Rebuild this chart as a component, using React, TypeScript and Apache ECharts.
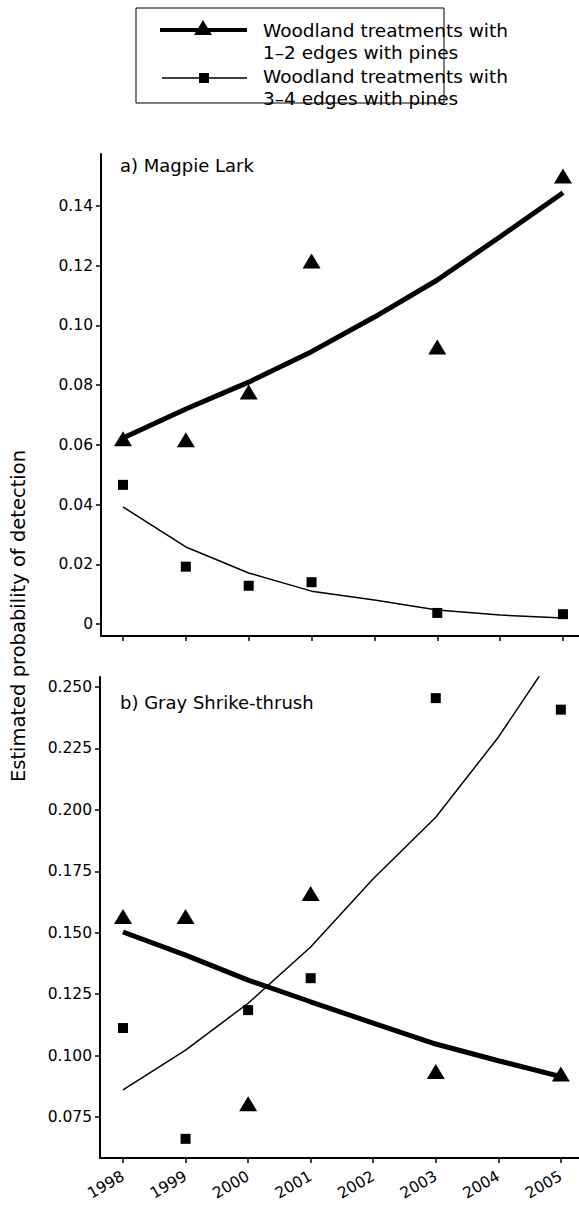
import React, { useEffect, useRef } from "react";
import * as echarts from "echarts";

const years = [1998, 1999, 2000, 2001, 2002, 2003, 2004, 2005];
const obsYears = [1998, 1999, 2000, 2001, 2003, 2005];

const magpieFit12 = [0.0623, 0.072, 0.081, 0.0912, 0.1028, 0.1152, 0.1297, 0.1444];
const magpieObs12 = [0.062, 0.0617, 0.0777, 0.1216, 0.0928, 0.150];
const magpieFit34 = [0.0392, 0.0258, 0.0171, 0.011, 0.008, 0.0047, 0.003, 0.002];
const magpieObs34 = [0.0466, 0.0192, 0.0128, 0.014, 0.0037, 0.0033];

const shrikeFit12 = [0.1503, 0.1409, 0.1307, 0.1219, 0.1132, 0.1047, 0.0979, 0.0914];
const shrikeObs12 = [0.1566, 0.1566, 0.0804, 0.166, 0.0935, 0.0925];
const shrikeFit34 = [0.086, 0.1022, 0.1213, 0.1442, 0.172, 0.197, 0.2296, 0.2675];
const shrikeObs34 = [0.1112, 0.0661, 0.1185, 0.1315, 0.2455, 0.2408];

const magpieTicks = [0, 0.02, 0.04, 0.06, 0.08, 0.1, 0.12, 0.14];
const shrikeTicks = [0.075, 0.1, 0.125, 0.15, 0.175, 0.2, 0.225, 0.25];

const legendLines = ["Woodland treatments with", "1\u20132 edges with pines", "Woodland treatments with", "3\u20134 edges with pines"];
const panelTitles = ["a) Magpie Lark", "b) Gray Shrike-thrush"];
const yTitle = "Estimated probability of detection";

const FONT = "DejaVu Sans";

function pairs(xs: number[], ys: number[]) {
  return xs.map((x, i) => [x, ys[i]]);
}

export default function App() {
  const ref = useRef<HTMLDivElement>(null);
  useEffect(() => {
    if (!ref.current) return;
    const chart = echarts.init(ref.current, null, { renderer: "svg" });
    const axisLine = { show: true, onZero: false, lineStyle: { color: "#000", width: 2 } };
    const axisTick = (vals: number[]) => ({
      show: true,
      inside: false,
      length: 5,
      customValues: vals,
      lineStyle: { color: "#000", width: 1.5 },
    });
    const xAxisBase = (gridIndex: number, min: number, max: number, showLabels: boolean) => ({
      type: "value",
      gridIndex,
      min,
      max,
      axisLine,
      axisTick: axisTick(years),
      splitLine: { show: false },
      axisLabel: {
        show: showLabels,
        customValues: years,
        rotate: 30,
        margin: 17,
        fontFamily: FONT,
        fontSize: 15.5,
        color: "#000",
        hideOverlap: false,
        formatter: (v: number) => String(v),
      },
    });
    const markerStyle = { color: "#000", opacity: 1 };
    const option: any = {
      animation: false,
      backgroundColor: "#fff",
      grid: [
        { left: 101, top: 154, width: 478, height: 482, outerBoundsMode: "none", containLabel: false },
        { left: 100, top: 677, width: 479, height: 481, outerBoundsMode: "none", containLabel: false },
      ],
      xAxis: [
        xAxisBase(0, 1997.65, 2005.255, false),
        xAxisBase(1, 1997.632, 2005.29, true),
      ],
      yAxis: [
        {
          type: "value",
          gridIndex: 0,
          min: -0.00402,
          max: 0.1574,
          axisLine,
          axisTick: axisTick(magpieTicks),
          splitLine: { show: false },
          axisLabel: {
            customValues: magpieTicks,
            margin: 8,
            fontFamily: FONT,
            fontSize: 15.5,
            color: "#000",
            formatter: (v: number) => (Math.abs(v) < 1e-9 ? "0" : v.toFixed(2)),
          },
        },
        {
          type: "value",
          gridIndex: 1,
          min: 0.0583,
          max: 0.2541,
          axisLine,
          axisTick: axisTick(shrikeTicks),
          splitLine: { show: false },
          axisLabel: {
            customValues: shrikeTicks,
            margin: 8,
            fontFamily: FONT,
            fontSize: 15.5,
            color: "#000",
            formatter: (v: number) => v.toFixed(3),
          },
        },
      ],
      series: [
        { type: "line", xAxisIndex: 0, yAxisIndex: 0, data: pairs(years, magpieFit12), showSymbol: false, symbol: "none", lineStyle: { color: "#000", width: 5 } },
        { type: "line", xAxisIndex: 0, yAxisIndex: 0, data: pairs(years, magpieFit34), showSymbol: false, symbol: "none", lineStyle: { color: "#000", width: 1.5 } },
        { type: "scatter", xAxisIndex: 0, yAxisIndex: 0, data: pairs(obsYears, magpieObs12), symbol: "triangle", symbolSize: [18, 15], itemStyle: markerStyle },
        { type: "scatter", xAxisIndex: 0, yAxisIndex: 0, data: pairs(obsYears, magpieObs34), symbol: "rect", symbolSize: 10, itemStyle: markerStyle },
        { type: "line", xAxisIndex: 1, yAxisIndex: 1, data: pairs(years, shrikeFit12), showSymbol: false, symbol: "none", lineStyle: { color: "#000", width: 5 } },
        { type: "line", xAxisIndex: 1, yAxisIndex: 1, data: pairs(years, shrikeFit34), showSymbol: false, symbol: "none", clip: true, lineStyle: { color: "#000", width: 1.5 } },
        { type: "scatter", xAxisIndex: 1, yAxisIndex: 1, data: pairs(obsYears, shrikeObs12), symbol: "triangle", symbolSize: [18, 15], itemStyle: markerStyle },
        { type: "scatter", xAxisIndex: 1, yAxisIndex: 1, data: pairs(obsYears, shrikeObs34), symbol: "rect", symbolSize: 10, itemStyle: markerStyle },
      ],
      graphic: [
        { type: "rect", shape: { x: 136, y: 8, width: 308, height: 95 }, style: { fill: "#fff", stroke: "#000", lineWidth: 1 } },
        { type: "line", shape: { x1: 160, y1: 30, x2: 247, y2: 30 }, style: { stroke: "#000", lineWidth: 4 } },
        { type: "polygon", shape: { points: [[194, 35], [212, 35], [203, 20]] }, style: { fill: "#000" } },
        { type: "line", shape: { x1: 162, y1: 78, x2: 247, y2: 78 }, style: { stroke: "#000", lineWidth: 1.5 } },
        { type: "rect", shape: { x: 199, y: 73, width: 10, height: 10 }, style: { fill: "#000" } },
        ...legendLines.map((t, i) => ({
          type: "text",
          x: 263,
          y: [30, 52, 76, 98][i],
          style: { text: t, fontFamily: FONT, fontSize: 18.5, fill: "#000", align: "left", verticalAlign: "middle" },
        })),
        { type: "text", x: 120, y: 165, style: { text: panelTitles[0], fontFamily: FONT, fontSize: 18, fill: "#000", align: "left", verticalAlign: "middle" } },
        { type: "text", x: 120, y: 702, style: { text: panelTitles[1], fontFamily: FONT, fontSize: 18, fill: "#000", align: "left", verticalAlign: "middle" } },
        { type: "text", x: 18, y: 616, rotation: Math.PI / 2, style: { text: yTitle, fontFamily: FONT, fontSize: 19.5, fill: "#000", align: "center", verticalAlign: "middle" } },
      ],
    };
    chart.setOption(option);
    return () => chart.dispose();
  }, []);
  return <div ref={ref} style={{ position: "fixed", left: 0, top: 0, width: 579, height: 1205 }} />;
}
